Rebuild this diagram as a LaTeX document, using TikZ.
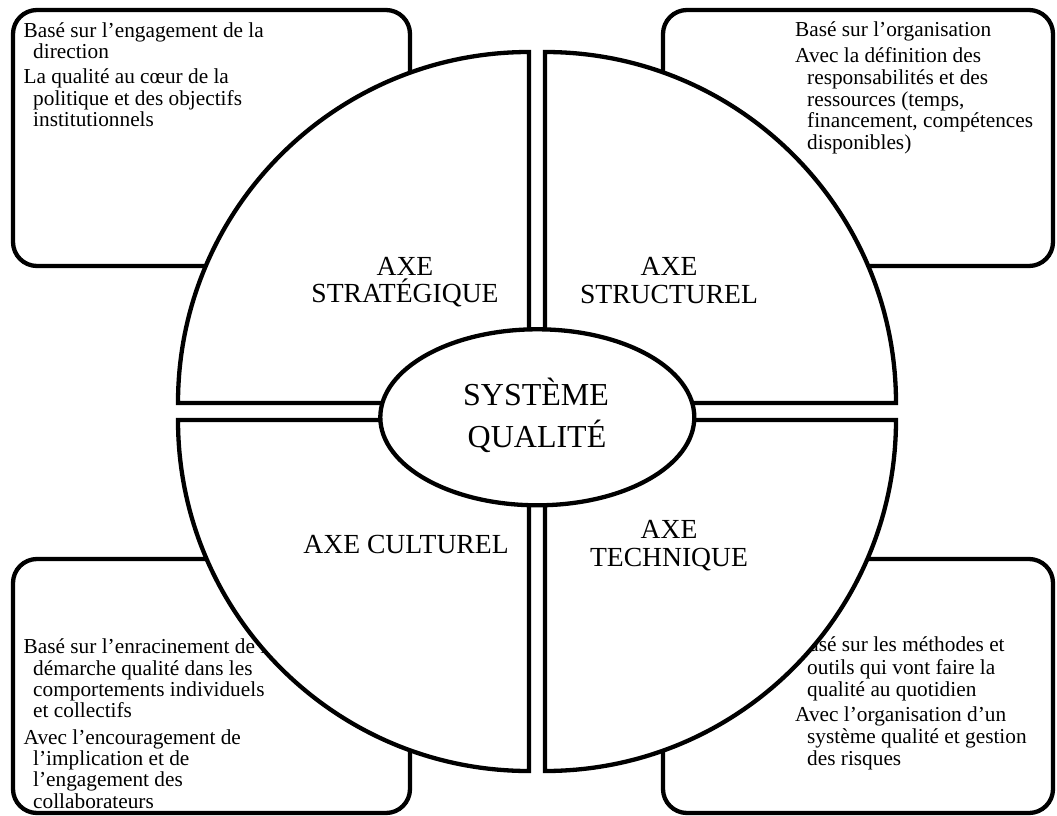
\documentclass[tikz,border=0pt]{standalone}
\usepackage{fontspec}
\setmainfont{Liberation Serif}
\usetikzlibrary{shapes.geometric}
\begin{document}
\begin{tikzpicture}[x=1pt,y=-1pt,
  lw/.style={line width=4.3pt},
  cornerbox/.style={draw, lw, fill=white, rounded corners=24pt, inner sep=0pt, outer sep=0pt},
  quad/.style={draw, lw, fill=white, line join=miter},
  small/.style={anchor=base west, inner sep=0pt, font=\fontsize{21.3}{21.7}\selectfont},
  axis/.style={anchor=base, inner sep=0pt, font=\fontsize{27.6}{28}\selectfont},
  coretext/.style={anchor=base, inner sep=0pt, font=\fontsize{32}{34}\selectfont}]
\useasboundingbox[fill=white] (0,0) rectangle (1057,816);

% corner boxes
\node[cornerbox, minimum width=397pt, minimum height=256pt] (tlbox) at (211.5,138) {};
\node[cornerbox, minimum width=390pt, minimum height=256pt] (trbox) at (858,138) {};
\node[cornerbox, minimum width=397pt, minimum height=254pt] (blbox) at (211.5,686) {};
\node[cornerbox, minimum width=390pt, minimum height=254pt] (brbox) at (858,686) {};

% texts of the boxes
\node[small] (tl1) at (23.5,37.3) {Basé sur l’engagement de la};
\node[small] (tl2) at (33,59) {direction};
\node[small] (tl3) at (23.5,83) {La qualité au cœur de la};
\node[small] (tl4) at (33,105) {politique et des objectifs};
\node[small] (tl5) at (33,126.7) {institutionnels};

\node[small] (tr1) at (795,36.7) {Basé sur l’organisation};
\node[small] (tr2) at (795,62.7) {Avec la définition des};
\node[small] (tr3) at (807,84.3) {responsabilités et des};
\node[small] (tr4) at (807,106) {ressources (temps,};
\node[small] (tr5) at (807,127.7) {financement, compétences};
\node[small] (tr6) at (807,149.3) {disponibles)};

\node[small] (bl1) at (23.5,653.3) {Basé sur l’enracinement de la};
\node[small] (bl2) at (33,675) {démarche qualité dans les};
\node[small] (bl3) at (33,696.7) {comportements individuels};
\node[small] (bl4) at (33,717.7) {et collectifs};
\node[small] (bl5) at (23.5,744) {Avec l’encouragement de};
\node[small] (bl6) at (33,765) {l’implication et de};
\node[small] (bl7) at (33,786.7) {l’engagement des};
\node[small] (bl8) at (33,808.3) {collaborateurs};

\node[small] (br1) at (795,651.7) {Basé sur les méthodes et};
\node[small] (br2) at (807,674) {outils qui vont faire la};
\node[small] (br3) at (807,696.7) {qualité au quotidien};
\node[small] (br4) at (795,721.7) {Avec l’organisation d’un};
\node[small] (br5) at (807,743.3) {système qualité et gestion};
\node[small] (br6) at (807,765) {des risques};

% quadrants
\draw[quad] (529,403) -- (178,403) arc[start angle=180, end angle=270, radius=351] -- cycle;
\draw[quad] (545,403) -- (896,403) arc[start angle=0, end angle=-90, radius=351] -- cycle;
\draw[quad] (529,420) -- (178,420) arc[start angle=180, end angle=90, radius=351] -- cycle;
\draw[quad] (545,420) -- (896,420) arc[start angle=0, end angle=90, radius=351] -- cycle;

% axis labels
\node[axis] (a1) at (405,275.7) {AXE};
\node[axis] (a2) at (405,302.7) {STRATÉGIQUE};
\node[axis] (b1) at (669,275.5) {AXE};
\node[axis] (b2) at (669,303.3) {STRUCTUREL};
\node[axis] (c1) at (406,553.3) {AXE CULTUREL};
\node[axis] (d1) at (669,538.3) {AXE};
\node[axis] (d2) at (669,566.7) {TECHNIQUE};

% central ellipse
\node[ellipse, draw, lw, fill=white, minimum width=314pt, minimum height=176pt, inner sep=0pt] (core) at (537.3,417.3) {};
\node[coretext] (s1) at (536,405) {SYSTÈME};
\node[coretext] (s2) at (537,447) {QUALITÉ};
\end{tikzpicture}
\end{document}
